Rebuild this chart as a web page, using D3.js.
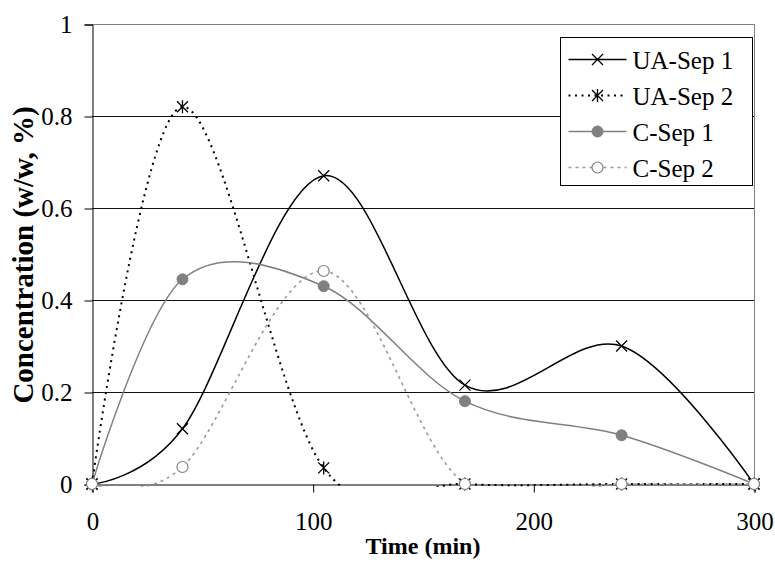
<!DOCTYPE html>
<html>
<head>
<meta charset="utf-8">
<script src="https://cdn.jsdelivr.net/npm/d3@7"></script>
<style>
  body { margin: 0; background: #fff; }
  text { font-family: "Liberation Serif", "Times New Roman", serif; }
</style>
</head>
<body>
<svg width="775" height="565"></svg>
<script>
// Data
var times = [0, 41, 105, 169, 240, 300];
var uaSep1 = [0, 0.12, 0.67, 0.215, 0.30, 0];
var uaSep2 = [0, 0.82, 0.035, 0, 0, 0];
var cSep1 = [0, 0.445, 0.43, 0.18, 0.106, 0];
var cSep2 = [0, 0.037, 0.463, 0, 0, 0];
var seriesNames = ["UA-Sep 1", "UA-Sep 2", "C-Sep 1", "C-Sep 2"];
var xTicks = [0, 100, 200, 300];
var yTicks = [0, 0.2, 0.4, 0.6, 0.8, 1];

var svg = d3.select("svg");
var plotLeft = 92, plotRight = 754, plotTop = 24, plotBottom = 484;

var x = d3.scaleLinear().domain([0, 300]).range([plotLeft, plotRight]);
var y = d3.scaleLinear().domain([0, 1]).range([plotBottom, plotTop]);

// clip for the smoothed curves
svg.append("clipPath").attr("id", "plotclip")
  .append("rect")
  .attr("x", plotLeft).attr("y", plotTop)
  .attr("width", plotRight - plotLeft).attr("height", plotBottom - plotTop + 3);

// gridlines
svg.append("g")
  .selectAll("line")
  .data(yTicks.filter(function (d) { return d > 0; }))
  .enter().append("line")
  .attr("x1", plotLeft).attr("x2", plotRight)
  .attr("y1", function (d) { return Math.round(y(d)) + 0.5; })
  .attr("y2", function (d) { return Math.round(y(d)) + 0.5; })
  .attr("stroke", function (d) { return d == 1 ? "#808080" : "#111"; })
  .attr("stroke-width", 1);

// right border
svg.append("line")
  .attr("x1", plotRight + 0.5).attr("x2", plotRight + 0.5)
  .attr("y1", plotTop).attr("y2", plotBottom)
  .attr("stroke", "#808080").attr("stroke-width", 1);

// axes
var yAxis = d3.axisLeft(y).tickValues(yTicks).tickSize(8).tickPadding(12)
  .tickFormat(function (d) { return d == 0 ? "0" : d == 1 ? "1" : d3.format(".1f")(d); });
var gy = svg.append("g").attr("transform", "translate(" + (plotLeft + 0.5) + ",0.5)").call(yAxis);
var xAxis = d3.axisBottom(x).tickValues(xTicks).tickSize(8).tickPadding(20);
var gx = svg.append("g").attr("transform", "translate(0.5," + (plotBottom + 0.5) + ")").call(xAxis);

[gx, gy].forEach(function (g) {
  g.select(".domain").attr("stroke", "#000").attr("stroke-width", 1);
  g.selectAll(".tick line").attr("stroke", "#000").attr("stroke-width", 1);
  g.selectAll(".tick text")
    .style("font-family", "'Liberation Serif', serif")
    .style("font-size", "25px")
    .attr("fill", "#000");
});

// axis titles
svg.append("text")
  .attr("x", (plotLeft + plotRight) / 2).attr("y", 554)
  .attr("text-anchor", "middle")
  .style("font-size", "24px").style("font-weight", "bold")
  .text("Time (min)");
svg.append("text")
  .attr("transform", "translate(33,255) rotate(-90)")
  .attr("text-anchor", "middle")
  .style("font-size", "29px").style("font-weight", "bold")
  .text("Concentration (w/w, %)");

// series styles
var styles = [
  { vals: uaSep1, color: "#000", width: 1.5, dash: null, marker: "x" },
  { vals: uaSep2, color: "#000", width: 2, dash: "2,4.5", marker: "star" },
  { vals: cSep1, color: "#808080", width: 1.5, dash: null, marker: "dot" },
  { vals: cSep2, color: "#999", width: 1.6, dash: "3,4", marker: "ring" }
];

var line = d3.line()
  .x(function (d) { return x(d[0]); })
  .y(function (d) { return y(d[1]); })
  .curve(d3.curveCatmullRom.alpha(0));

function drawMarker(g, type, cx, cy) {
  var s = 5.5;
  if (type == "x" || type == "star") {
    g.append("path")
      .attr("d", "M" + (cx - s) + "," + (cy - s) + "L" + (cx + s) + "," + (cy + s) +
        "M" + (cx - s) + "," + (cy + s) + "L" + (cx + s) + "," + (cy - s) +
        (type == "star" ? "M" + cx + "," + (cy - s - 1) + "L" + cx + "," + (cy + s + 1) : ""))
      .attr("stroke", "#000").attr("stroke-width", 1.3).attr("fill", "none");
  } else if (type == "dot") {
    g.append("circle").attr("cx", cx).attr("cy", cy).attr("r", 5.5)
      .attr("fill", "#808080").attr("stroke", "#808080");
  } else {
    g.append("circle").attr("cx", cx).attr("cy", cy).attr("r", 5.5)
      .attr("fill", "#fff").attr("stroke", "#808080").attr("stroke-width", 1.2);
  }
}

styles.forEach(function (s) {
  var pts = times.map(function (t, i) { return [t, s.vals[i]]; });
  svg.append("path")
    .attr("clip-path", "url(#plotclip)")
    .attr("d", line(pts))
    .attr("fill", "none")
    .attr("stroke", s.color)
    .attr("stroke-width", s.width)
    .attr("stroke-dasharray", s.dash);
});

styles.forEach(function (s) {
  var g = svg.append("g");
  times.forEach(function (t, i) { drawMarker(g, s.marker, x(t), y(s.vals[i])); });
});

// Legend
var lg = svg.append("g").attr("transform", "translate(560.5,37.5)");
lg.append("rect").attr("width", 192).attr("height", 148)
  .attr("fill", "#fff").attr("stroke", "#000").attr("stroke-width", 1);
styles.forEach(function (s, i) {
  var ly = 22 + i * 36;
  lg.append("line").attr("x1", 8).attr("x2", 66).attr("y1", ly).attr("y2", ly)
    .attr("stroke", s.color).attr("stroke-width", s.width)
    .attr("stroke-dasharray", s.dash);
  drawMarker(lg, s.marker, 37, ly);
  lg.append("text").attr("x", 72).attr("y", ly + 9)
    .style("font-size", "25px").text(seriesNames[i]);
});
</script>
</body>
</html>
